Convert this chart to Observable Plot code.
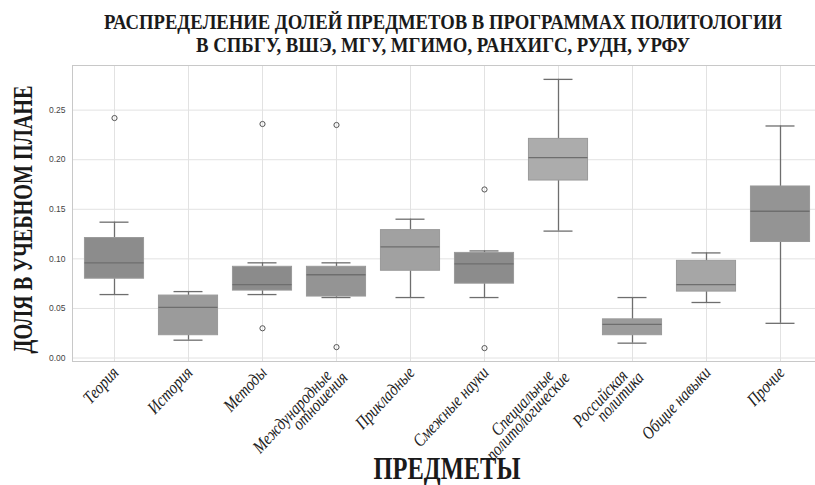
<!DOCTYPE html>
<html><head><meta charset="utf-8">
<script src="https://cdn.jsdelivr.net/npm/d3@7"></script>
<script src="https://cdn.jsdelivr.net/npm/@observablehq/plot@0.6"></script>
<style>
body{margin:0;background:#fff;overflow:hidden;}
#chart svg{display:block;}
</style></head><body><div id="chart"></div>
<script>
const titleLines = ["РАСПРЕДЕЛЕНИЕ ДОЛЕЙ ПРЕДМЕТОВ В ПРОГРАММАХ ПОЛИТОЛОГИИ", "В СПБГУ, ВШЭ, МГУ, МГИМО, РАНХИГС, РУДН, УРФУ"];
const yLabel = "ДОЛЯ В УЧЕБНОМ ПЛАНЕ";
const xLabel = "ПРЕДМЕТЫ";
const categories = ["Теория","История","Методы","Международные отношения","Прикладные","Смежные науки","Специальные политологические","Российская политика","Общие навыки","Прочие"];
const tickLabels = ["Теория","История","Методы","Международные\nотношения","Прикладные","Смежные науки","Специальные\nполитологические","Российская\nполитика","Общие навыки","Прочие"];
const whiskerLow  = [0.064,0.018,0.064,0.061,0.061,0.061,0.128,0.015,0.056,0.035];
const q1          = [0.080,0.023,0.068,0.062,0.088,0.075,0.179,0.023,0.067,0.117];
const median      = [0.096,0.051,0.074,0.084,0.112,0.095,0.202,0.034,0.074,0.148];
const q3          = [0.121,0.063,0.092,0.092,0.129,0.106,0.221,0.039,0.098,0.173];
const whiskerHigh = [0.137,0.067,0.096,0.096,0.140,0.108,0.281,0.061,0.106,0.234];
const outlierCategory = ["Теория","Методы","Методы","Международные отношения","Международные отношения","Смежные науки","Смежные науки"];
const outlierValue    = [0.242,0.236,0.030,0.235,0.011,0.170,0.010];
const yTicks = [0,0.05,0.10,0.15,0.20,0.25];
const boxColors = ["#8c8c8c","#9b9b9b","#8b8b8b","#949494","#a1a1a1","#8c8c8c","#acacac","#9c9c9c","#a6a6a6","#949494"];

const stats = categories.map((c,i)=>({cat:c, lo:whiskerLow[i], q1:q1[i], med:median[i], q3:q3[i], hi:whiskerHigh[i]}));
const outliers = outlierCategory.map((c,i)=>({cat:c, v:outlierValue[i]}));
const labelParts = categories.map((c,i)=>({cat:c, parts:tickLabels[i].split("\n")}));
const singles = labelParts.filter(d=>d.parts.length===1);
const doubles = labelParts.filter(d=>d.parts.length===2);

// title
const tsvg = d3.create("svg").attr("width",815).attr("height",60);
const tl = [{t:titleLines[0], y:29, len:678},{t:titleLines[1], y:52, len:494}];
tl.forEach(o=>{
  tsvg.append("text").attr("x",443).attr("y",o.y).attr("text-anchor","middle")
    .attr("font-family","Liberation Serif").attr("font-weight","bold").attr("font-size",21)
    .attr("fill","#1a1a1a").attr("textLength",o.len).attr("lengthAdjust","spacingAndGlyphs").text(o.t);
});
document.getElementById("chart").append(tsvg.node());

const lineCol = "#6e6e6e";
const inset = 7.45;
const rot = -47;
const bx = 1, by = 8;
const tickStyle = {frameAnchor: "bottom", rotate: rot, textAnchor: "end", lineAnchor: "middle", fontSize: 18, fontStyle: "italic", fontFamily: "Liberation Serif", fill: "#222"};
const plot = Plot.plot({
  width: 815, height: 425,
  marginTop: 5, marginBottom: 124, marginLeft: 72, marginRight: -6,
  style: {background: "#fff", overflow: "visible"},
  x: {domain: categories, padding: 0, axis: null},
  y: {domain: [-0.0035, 0.295], axis: null},
  color: {domain: categories, range: boxColors},
  marks: [
    Plot.gridY(yTicks, {stroke: "#e2e2e2", strokeOpacity: 1}),
    Plot.gridX(categories, {stroke: "#e2e2e2", strokeOpacity: 1}),
    Plot.frame({stroke: "#c8c8c8"}),
    Plot.ruleX(stats, {x: "cat", y1: "q3", y2: "hi", stroke: lineCol, strokeWidth: 1.3}),
    Plot.ruleX(stats, {x: "cat", y1: "lo", y2: "q1", stroke: lineCol, strokeWidth: 1.3}),
    Plot.tickY(stats, {x: "cat", y: "hi", stroke: lineCol, strokeWidth: 1.3, insetLeft: 22.5, insetRight: 22.5}),
    Plot.tickY(stats, {x: "cat", y: "lo", stroke: lineCol, strokeWidth: 1.3, insetLeft: 22.5, insetRight: 22.5}),
    Plot.barY(stats, {x: "cat", y1: "q1", y2: "q3", fill: "cat", stroke: "#9a9a9a", strokeWidth: 1, insetLeft: inset, insetRight: inset}),
    Plot.tickY(stats, {x: "cat", y: "med", stroke: lineCol, strokeWidth: 1.3, insetLeft: inset, insetRight: inset}),
    Plot.dot(outliers, {x: "cat", y: "v", r: 2.6, stroke: "#555", strokeWidth: 1, fill: "none"}),
    Plot.text(yTicks, {y: d => d, text: d => d.toFixed(2), frameAnchor: "left", textAnchor: "end", dx: -7, fontSize: 8.5, fontFamily: "Liberation Sans", fill: "#444"}),
    Plot.text(singles, {x: "cat", text: d => d.parts[0], dx: bx, dy: by, ...tickStyle}),
    Plot.text(doubles, {x: "cat", text: d => d.parts[0], dx: bx - 9, dy: by + 3, ...tickStyle}),
    Plot.text(doubles, {x: "cat", text: d => d.parts[1], dx: bx + 7, dy: by + 5, ...tickStyle}),
    Plot.text([yLabel], {frameAnchor: "left", rotate: -90, textAnchor: "middle", lineAnchor: "bottom", dx: -41, dy: 6, fontSize: 27, fontWeight: "bold", fontFamily: "Liberation Serif", fill: "#1a1a1a"}),
    Plot.text([xLabel], {frameAnchor: "bottom", textAnchor: "middle", lineAnchor: "bottom", dy: 117, fontSize: 31, fontWeight: "bold", fontFamily: "Liberation Serif", fill: "#1a1a1a"})
  ]
});
document.getElementById("chart").append(plot);
const allText = d3.select(plot).selectAll("text");
allText.filter(function(){ return this.textContent === yLabel; }).attr("textLength", 268).attr("lengthAdjust", "spacingAndGlyphs");
allText.filter(function(){ return this.textContent === xLabel; }).attr("textLength", 147).attr("lengthAdjust", "spacingAndGlyphs");
allText.filter(function(){ const t = this.getAttribute("transform") || ""; return t.includes("rotate(" + rot + ")"); })
  .attr("transform", function(){ return this.getAttribute("transform") + " scale(0.82,1)"; });
</script>
</body></html>
